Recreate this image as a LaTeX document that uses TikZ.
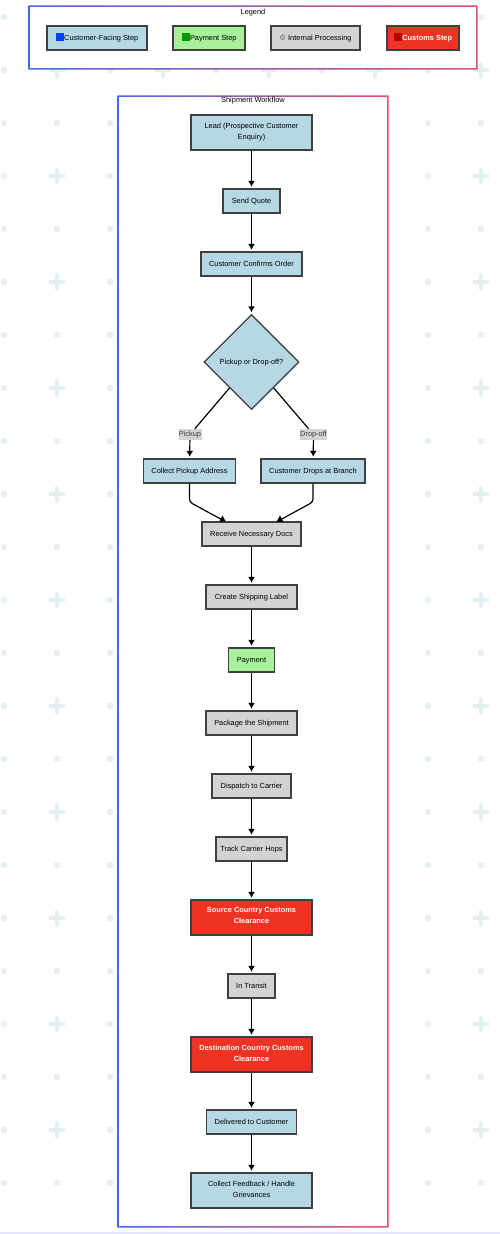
\documentclass[tikz,border=0pt]{standalone}
\usepackage{fontspec}
\setmainfont{Liberation Sans}
\newfontfamily\symbolfont{DejaVu Sans}
\usetikzlibrary{shapes.geometric,shadows,arrows.meta}
\definecolor{stepblue}{HTML}{B5D8E4}
\definecolor{paygreen}{HTML}{A8F09A}
\definecolor{procgray}{HTML}{D3D3D3}
\definecolor{customsred}{HTML}{EE3322}
\definecolor{patterncol}{HTML}{E2F0F4}
\definecolor{frameleft}{HTML}{4A68EA}
\definecolor{framemid}{HTML}{8B3A9A}
\definecolor{frameright}{HTML}{E4506C}
\newcommand{\legendicon}[1]{\textcolor{#1}{\rule[-1.2pt]{8.5pt}{8.5pt}}}
\tikzset{
  basebox/.style={draw=black!75,line width=1.3pt,inner sep=0pt,align=center,
    font=\fontsize{7.4}{11}\selectfont,execute at begin node=\strut,
    general shadow={fill=black,opacity=.25,shadow xshift=.4pt,shadow yshift=-.8pt}},
  stepbox/.style={basebox,fill=stepblue},
  paybox/.style={basebox,fill=paygreen},
  procbox/.style={basebox,fill=procgray},
  customsbox/.style={basebox,fill=customsred,text=white,font=\fontsize{7.4}{11}\selectfont\bfseries},
  decbox/.style={stepbox,diamond,aspect=1,minimum size=95pt},
  edgelabel/.style={fill=procgray,inner sep=0pt,font=\fontsize{7.4}{9}\selectfont,text=black!75},
  frametitle/.style={font=\fontsize{7.4}{9}\selectfont},
  frameline/.style={even odd rule,left color=frameleft,middle color=framemid,right color=frameright},
  flow/.style={-{Latex[length=6pt,width=7pt]},line width=1.2pt,shorten >=1.5pt},
  flowline/.style={line width=1.2pt}
}
\begin{document}
\begin{tikzpicture}[x=1pt,y=-1pt]
  \useasboundingbox (0,0) rectangle (500,1234);
  % background pattern
  \foreach \r in {0,...,22} \foreach \c in {0,...,9} {
    \pgfmathsetmacro{\px}{4+53*\c}
    \pgfmathsetmacro{\py}{17+53*\r}
    \pgfmathparse{int(mod(\r,2)*mod(\c,2))}
    \ifnum\pgfmathresult=1
      \draw [patterncol,line width=4pt,line cap=round] (\px-6.5,\py) -- (\px+6.5,\py) (\px,\py-6.5) -- (\px,\py+6.5);
    \else
      \fill [patterncol] (\px,\py) circle (3.2pt);
    \fi
  }
  \fill [blue!10] (0,1232) rectangle (500,1234);
  % frames
  \fill [white] (29,6) rectangle (477,69);
  \path [frameline] (28.4,5.4) rectangle (477.6,69.6) (29.8,6.8) rectangle (476.2,68.2);
  \fill [white] (118,96) rectangle (388,1227);
  \path [frameline] (117.4,95.4) rectangle (388.6,1227.6) (118.8,96.8) rectangle (387.2,1226.2);
  \node [frametitle] (legendtitle) at (253,12.5) {Legend};
  \node [frametitle] (flowtitle) at (253,101) {Shipment Workflow};
  % legend
  \node [stepbox,minimum width=100pt,minimum height=24pt] (legstep) at (97,38) {\legendicon{blue!75!cyan}Customer-Facing Step};
  \node [paybox,minimum width=72pt,minimum height=24pt] (legpay) at (209,38) {\legendicon{green!60!black}Payment Step};
  \node [procbox,minimum width=89pt,minimum height=24pt] (legproc) at (315.5,38) {{\symbolfont\textcolor{black!55}{⚙}} Internal Processing};
  \node [customsbox,minimum width=72pt,minimum height=24pt] (legcust) at (423,38) {\legendicon{red!70!black}Customs Step};
  % workflow
  \node [stepbox,minimum width=121pt,minimum height=35pt] (lead) at (251.5,132.5) {Lead (Prospective Customer\\Enquiry)};
  \node [stepbox,minimum width=57pt,minimum height=24pt] (quote) at (251.5,201) {Send Quote};
  \node [stepbox,minimum width=101pt,minimum height=24pt] (confirm) at (251.5,264) {Customer Confirms Order};
  \node [decbox] (choice) at (251.5,362) {Pickup or Drop-off?};
  \node [edgelabel,minimum width=23pt,minimum height=11pt] (lblpickup) at (190,434.5) {Pickup};
  \node [edgelabel,minimum width=27pt,minimum height=11pt] (lbldrop) at (313.5,434.5) {Drop-off};
  \node [stepbox,minimum width=92pt,minimum height=24pt] (address) at (189.5,471) {Collect Pickup Address};
  \node [stepbox,minimum width=104pt,minimum height=24pt] (branch) at (313,471) {Customer Drops at Branch};
  \node [procbox,minimum width=99pt,minimum height=24pt] (docs) at (251.5,534) {Receive Necessary Docs};
  \node [procbox,minimum width=91pt,minimum height=24pt] (label) at (251.5,597) {Create Shipping Label};
  \node [paybox,minimum width=46pt,minimum height=24pt] (payment) at (251.5,660) {Payment};
  \node [procbox,minimum width=91pt,minimum height=24pt] (package) at (251.5,723) {Package the Shipment};
  \node [procbox,minimum width=79pt,minimum height=24pt] (dispatch) at (251.5,786) {Dispatch to Carrier};
  \node [procbox,minimum width=71pt,minimum height=24pt] (track) at (251.5,849) {Track Carrier Hops};
  \node [customsbox,minimum width=121pt,minimum height=35pt] (source) at (251.5,917.5) {Source Country Customs\\Clearance};
  \node [procbox,minimum width=47pt,minimum height=24pt] (transit) at (251.5,986) {In Transit};
  \node [customsbox,minimum width=121pt,minimum height=35pt] (dest) at (251.5,1054.5) {Destination Country Customs\\Clearance};
  \node [stepbox,minimum width=90pt,minimum height=24pt] (delivered) at (251.5,1122) {Delivered to Customer};
  \node [stepbox,minimum width=121pt,minimum height=35pt] (feedback) at (251.5,1190.5) {Collect Feedback / Handle\\Grievances};
  % connectors
  \foreach \a/\b in {lead/quote,quote/confirm,confirm/choice,docs/label,label/payment,
    payment/package,package/dispatch,dispatch/track,track/source,source/transit,
    transit/dest,dest/delivered,delivered/feedback,lblpickup/address,lbldrop/branch}
    \draw [flow] (\a) -- (\b);
  \draw [flowline] (choice) -- (lblpickup);
  \draw [flowline] (choice) -- (lbldrop);
  \coordinate (docsleft) at (222.5,520);
  \coordinate (docsright) at (280,520);
  \coordinate (bendleft) at (189.5,502);
  \coordinate (bendright) at (313,502);
  \draw [flowline,rounded corners=3pt] (address) -- (bendleft) -- (docsleft);
  \draw [flowline,rounded corners=3pt] (branch) -- (bendright) -- (docsright);
  \foreach \c in {docsleft,docsright}
    \fill (\c) ++(-3.2,1.5) -- ++(6.4,0) -- ++(-3.2,-6) -- cycle;
\end{tikzpicture}
\end{document}
